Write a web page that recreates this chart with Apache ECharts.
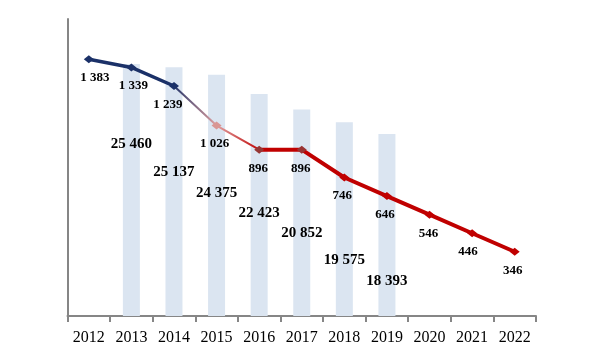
<!DOCTYPE html>
<html>
<head>
<meta charset="utf-8">
<script src="https://cdn.jsdelivr.net/npm/echarts@6/dist/echarts.min.js"></script>
<style>
html,body{margin:0;padding:0;background:#fff;}
#chart{width:599px;height:359px;}
</style>
</head>
<body>
<div id="chart"></div>
<script>
// ---- data ----
const years = ['2012','2013','2014','2015','2016','2017','2018','2019','2020','2021','2022'];
const barValues = [null, 25460, 25137, 24375, 22423, 20852, 19575, 18393, null, null, null];
const lineValues = [1383, 1339, 1239, 1026, 896, 896, 746, 646, 546, 446, 346];

// ---- styling helpers (not data) ----
const barLabelDy = [0, 68, 92, 106, 107, 111, 125, 135, 0, 0, 0];
const lineLabelDx = [6, 2, -6, -2, -1, -1, -2, -2, -1, -4, -2];
const markerColors = ['#1B3168','#1B3168','#1B3168','#D99694','#963634','#993333','#C00000','#C00000','#C00000','#C00000','#C00000'];
const NAVY = '#1B3168', RED = '#C00000';
const serif = '"Liberation Serif", "DejaVu Serif", serif';

function fmt(v){ return String(v).replace(/\B(?=(\d{3})+(?!\d))/g, ' '); }
function segment(from, to){ return lineValues.map((v,i)=> (i>=from && i<=to) ? v : null); }

const chart = echarts.init(document.getElementById('chart'), null, {renderer:'canvas'});
chart.setOption({
  animation:false,
  backgroundColor:'#fff',
  grid:{left:67.5, right:63, top:19, bottom:43},
  xAxis:{
    type:'category', data:years, boundaryGap:true,
    axisLine:{show:true, lineStyle:{color:'#868686', width:2}},
    axisTick:{show:true, length:6, lineStyle:{color:'#868686', width:2}},
    axisLabel:{color:'#000', fontFamily:serif, fontSize:16, margin:14},
    splitLine:{show:false}
  },
  yAxis:[
    {type:'value', min:0, max:30000, position:'left',
     axisLine:{show:true, lineStyle:{color:'#868686', width:2}},
     axisTick:{show:false}, axisLabel:{show:false}, splitLine:{show:false}},
    {type:'value', min:0, max:1600, position:'right',
     axisLine:{show:false}, axisTick:{show:false}, axisLabel:{show:false}, splitLine:{show:false}}
  ],
  series:[
    {
      type:'bar', yAxisIndex:0, barWidth:17, z:1,
      itemStyle:{color:'#DBE5F1'},
      data: barValues.map((v,i)=> v==null ? null : {
        value:v,
        label:{show:true, position:'insideTop', offset:[0, barLabelDy[i]],
               formatter: p=>fmt(p.value), color:'#000', fontFamily:serif,
               fontWeight:'bold', fontSize:15}
      })
    },
    {
      type:'line', yAxisIndex:1, data:segment(0,2), showSymbol:false, z:3,
      lineStyle:{color:NAVY, width:3.5}
    },
    {
      type:'line', yAxisIndex:1, data:segment(2,4), showSymbol:false, z:3,
      lineStyle:{width:2, color:new echarts.graphic.LinearGradient(0,0,1,0,[
        {offset:0, color:NAVY},
        {offset:0.5, color:'#E0A0A0'},
        {offset:1, color:RED}
      ])}
    },
    {
      type:'line', yAxisIndex:1, data:segment(4,10), showSymbol:false, z:3,
      lineStyle:{color:RED, width:4}
    },
    {
      type:'line', yAxisIndex:1, z:4,
      lineStyle:{width:0, opacity:0},
      symbol:'diamond', symbolSize:[10,8],
      data: lineValues.map((v,i)=>({
        value:v,
        itemStyle:{color:markerColors[i]},
        label:{show:true, position:'bottom', distance:8, offset:[lineLabelDx[i],0],
               formatter:p=>fmt(p.value), color:'#000', fontFamily:serif,
               fontWeight:'bold', fontSize:13}
      }))
    }
  ]
});
</script>
</body>
</html>
